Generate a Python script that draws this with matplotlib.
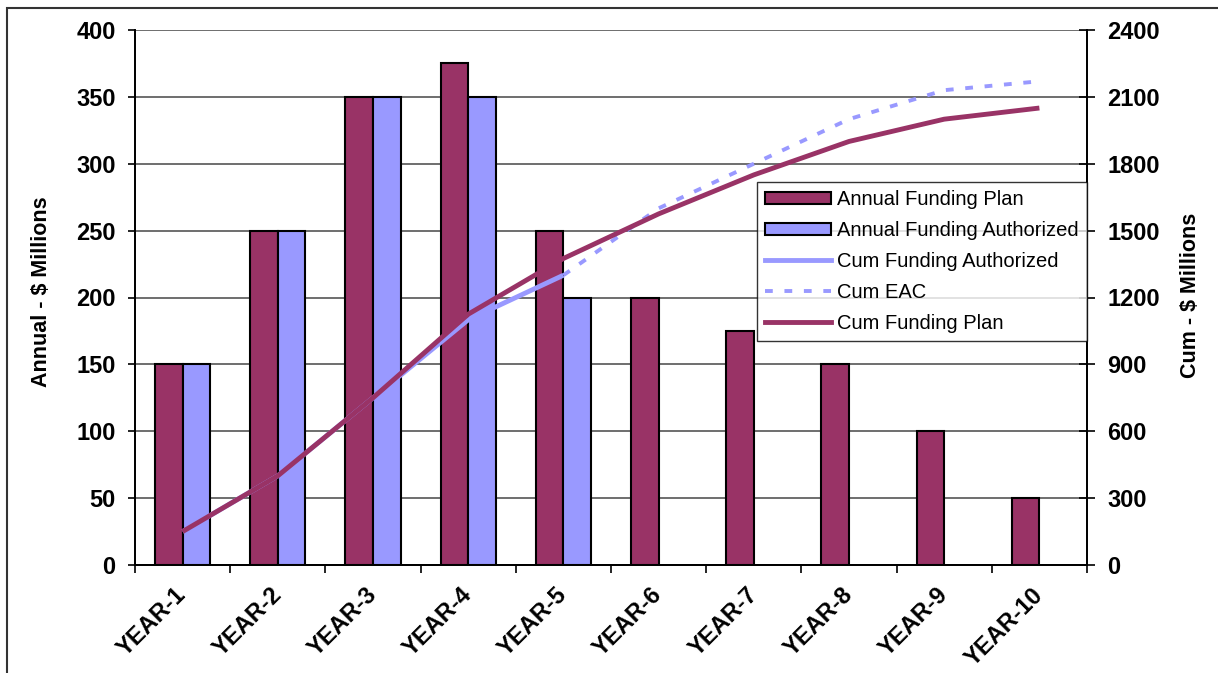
import matplotlib
matplotlib.use("Agg")
import matplotlib.pyplot as plt
from matplotlib.patches import Rectangle, Patch
from matplotlib.lines import Line2D
from matplotlib.transforms import ScaledTranslation
import numpy as np

plt.rcParams['font.family'] = ['Liberation Sans', 'DejaVu Sans']

years = ["YEAR-1", "YEAR-2", "YEAR-3", "YEAR-4", "YEAR-5",
         "YEAR-6", "YEAR-7", "YEAR-8", "YEAR-9", "YEAR-10"]
annual_plan = [150, 250, 350, 375, 250, 200, 175, 150, 100, 50]
annual_authorized = [150, 250, 350, 350, 200]
cum_plan = [150, 400, 750, 1125, 1375, 1575, 1750, 1900, 2000, 2050]
cum_authorized = [150, 400, 750, 1100, 1300]
eac_years = ["YEAR-5", "YEAR-6", "YEAR-7", "YEAR-8", "YEAR-9", "YEAR-10"]
cum_eac = [1300, 1600, 1800, 2000, 2130, 2170]

plum = "#993366"
lilac = "#9999FF"
eac_dash = (0, (2.0, 3.0))

fig = plt.figure(figsize=(12.18, 6.73), dpi=100)
ax = fig.add_axes([135 / 1218, 1 - 565 / 673, (1087 - 135) / 1218, (565 - 30) / 673])
ax2 = ax.twinx()

x = np.arange(len(years))
w = 0.29
ax.bar(x - w / 2, annual_plan, w, color=plum, edgecolor="black", linewidth=1.5, zorder=3)
xa = np.arange(len(annual_authorized))
ax.bar(xa + w / 2, annual_authorized, w, color=lilac, edgecolor="black", linewidth=1.5, zorder=3)

ax2.plot(xa, cum_authorized, color=lilac, linewidth=3.5, solid_capstyle="butt", zorder=3)
xe = [years.index(y) for y in eac_years]
ax2.plot(xe, cum_eac, color=lilac, linewidth=2.8, linestyle=eac_dash, zorder=3)
ax2.plot(x, cum_plan, color=plum, linewidth=3.5, solid_capstyle="butt", zorder=4)

ax.set_xlim(-0.5, 9.5)
ax.set_ylim(0, 400)
ax2.set_ylim(0, 2400)
ax.set_yticks(np.arange(0, 401, 50))
ax2.set_yticks(np.arange(0, 2401, 300))

ax.yaxis.grid(True, color="#555555", linewidth=1.2, zorder=0)
ax.set_axisbelow(True)

ax.set_xticks(x)
ax.set_xticklabels(years, rotation=45, ha="right", va="center", rotation_mode="anchor",
                   fontsize=17, fontweight="bold")
shift = ScaledTranslation(-5 / 100, 0, fig.dpi_scale_trans)
for t in ax.get_xticklabels():
    t.set_transform(t.get_transform() + shift)
ax.set_xticks(np.arange(-0.5, 10, 1), minor=True)
ax.tick_params(axis="x", which="major", length=0, pad=19)
ax.tick_params(axis="x", which="minor", length=6, width=1.2, direction="out")

ax.tick_params(axis="y", length=5, width=1.2, direction="out", labelsize=17, pad=9)
ax2.tick_params(axis="y", length=11, width=1.2, direction="inout", labelsize=17, pad=9)
for t in ax.get_yticklabels() + ax2.get_yticklabels():
    t.set_fontweight("bold")

for a in (ax, ax2):
    a.spines["top"].set_visible(False)
    for s in ("left", "right", "bottom"):
        a.spines[s].set_linewidth(1.3)
        a.spines[s].set_color("black")

fig.text(42 / 1218, 1 - 292 / 673, "Annual - $ Millions", rotation=90, ha="center", va="center",
         fontsize=15.5, fontweight="bold")
fig.text(1190 / 1218, 1 - 295 / 673, "Cum - $ Millions", rotation=90, ha="center", va="center",
         fontsize=15.5, fontweight="bold")

handles = [
    Patch(facecolor=plum, edgecolor="black", linewidth=1.5),
    Patch(facecolor=lilac, edgecolor="black", linewidth=1.5),
    Line2D([], [], color=lilac, linewidth=3.5),
    Line2D([], [], color=lilac, linewidth=2.8, linestyle=eac_dash),
    Line2D([], [], color=plum, linewidth=3.5),
]
labels = ["Annual Funding Plan", "Annual Funding Authorized", "Cum Funding Authorized",
          "Cum EAC", "Cum Funding Plan"]
leg = ax2.legend(handles, labels, loc="upper right", bbox_to_anchor=(1.0, (565 - 182) / 535),
                 borderaxespad=0, fontsize=14.5, frameon=True, fancybox=False,
                 handlelength=3.3, handleheight=0.55, handletextpad=0.3, labelspacing=0.59,
                 borderpad=0.4)
leg.get_frame().set_edgecolor("black")
leg.get_frame().set_linewidth(1.0)
leg.set_zorder(10)

fig.add_artist(Rectangle((7 / 1218, -0.05), 1.05, 1 - 8 / 673 + 0.05, transform=fig.transFigure,
                         fill=False, edgecolor="#333333", linewidth=1.5))

fig.savefig("out.png", dpi=100)
